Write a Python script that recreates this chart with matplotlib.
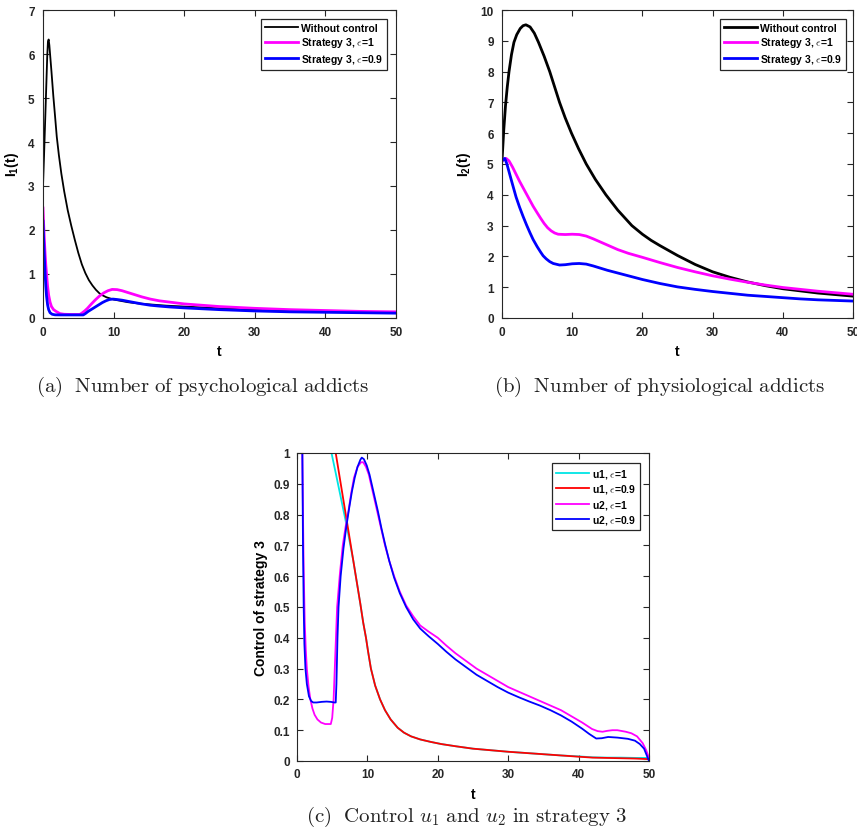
import matplotlib
matplotlib.use("Agg")
import matplotlib.pyplot as plt

plt.rcParams['font.family'] = ['Liberation Sans', 'DejaVu Sans']
plt.rcParams['font.weight'] = 'bold'
plt.rcParams['mathtext.fontset'] = 'custom'
plt.rcParams['mathtext.rm'] = 'Liberation Sans:bold'
plt.rcParams['mathtext.bf'] = 'Liberation Sans:bold'
plt.rcParams['mathtext.it'] = 'Liberation Sans:bold'

# ---------------- data: panel (a) I1(t) ----------------
a_black_t = [0, 0.15, 0.3, 0.45, 0.6, 0.7, 0.8, 0.9, 1.05, 1.2, 1.46, 1.7, 1.95, 2.25, 2.6,
             3.0, 3.5, 4.0, 4.5, 5.0, 5.5, 6.0, 6.5, 7.0, 7.5, 8.0, 8.5, 9.0, 10, 11, 12, 13.5,
             15, 17.5, 20, 25, 30, 35, 40, 45, 50]
a_black_v = [3.0, 3.7, 4.45, 5.2, 5.95, 6.28, 6.33, 6.2, 5.9, 5.6, 5.05, 4.6, 4.12, 3.7, 3.28,
             2.88, 2.45, 2.1, 1.78, 1.48, 1.22, 1.02, 0.86, 0.74, 0.64, 0.56, 0.51, 0.47, 0.42,
             0.39, 0.36, 0.33, 0.31, 0.28, 0.26, 0.22, 0.19, 0.17, 0.15, 0.14, 0.13]
a_mag_t = [0, 0.1, 0.2, 0.3, 0.4, 0.5, 0.65, 0.8, 1.0, 1.2, 1.5, 1.85, 2.4, 3.0, 4.0, 5.2,
           5.5, 5.9, 6.3, 6.8, 7.4, 8.0, 8.6, 9.2, 9.8, 10.5, 11.2, 12, 13, 14, 15.2, 16.5,
           18, 20, 22.5, 25, 30, 35, 40, 45, 50]
a_mag_v = [2.5, 2.1, 1.75, 1.45, 1.2, 1.0, 0.72, 0.52, 0.36, 0.26, 0.19, 0.15, 0.1, 0.085,
           0.08, 0.08, 0.11, 0.16, 0.22, 0.31, 0.41, 0.5, 0.57, 0.62, 0.65, 0.645, 0.62, 0.58,
           0.53, 0.48, 0.43, 0.39, 0.36, 0.32, 0.29, 0.26, 0.22, 0.19, 0.17, 0.15, 0.14]
a_blue_t = [0, 0.1, 0.2, 0.3, 0.4, 0.5, 0.65, 0.8, 1.0, 1.3, 1.7, 2.5, 3.5, 4.5, 5.7, 6.0,
            6.4, 6.9, 7.4, 7.9, 8.4, 8.9, 9.4, 9.9, 10.5, 11.2, 12, 13, 14, 15.2, 16.5, 18,
            20, 22.5, 25, 30, 35, 40, 45, 50]
a_blue_v = [2.2, 1.75, 1.35, 1.0, 0.72, 0.5, 0.3, 0.19, 0.12, 0.085, 0.072, 0.07, 0.07, 0.07,
            0.07, 0.1, 0.15, 0.2, 0.25, 0.3, 0.35, 0.39, 0.42, 0.43, 0.42, 0.405, 0.38, 0.35,
            0.32, 0.29, 0.27, 0.25, 0.23, 0.21, 0.19, 0.16, 0.14, 0.13, 0.12, 0.11]

# ---------------- data: panel (b) I2(t) ----------------
b_black_t = [0, 0.25, 0.5, 0.75, 1.0, 1.35, 1.7, 2.1, 2.6, 3.0, 3.4, 4.0, 4.6, 5.2, 6.0,
             6.8, 7.5, 8.2, 9.0, 9.9, 10.9, 12.0, 13.3, 14.8, 16.5, 18.5, 20, 21.25, 22.5,
             25, 27.5, 30, 32.5, 35, 37.5, 40, 42.5, 45, 47.5, 50]
b_black_v = [5.1, 6.1, 6.9, 7.5, 8.0, 8.55, 8.95, 9.2, 9.4, 9.49, 9.52, 9.45, 9.25, 8.95, 8.5,
             8.0, 7.5, 7.0, 6.5, 6.0, 5.5, 5.0, 4.5, 4.0, 3.5, 3.0, 2.72, 2.52, 2.35, 2.03,
             1.74, 1.5, 1.32, 1.17, 1.05, 0.95, 0.88, 0.81, 0.76, 0.71]
b_mag_t = [0, 0.3, 0.6, 1.0, 1.5, 2.0, 2.5, 3.0, 3.5, 4.0, 4.43, 5.0, 5.5, 6.0, 6.5, 7.0,
           7.5, 8.0, 9, 10, 11, 12, 13, 14, 15, 16.5, 18, 20, 22.5, 25, 27.5, 30, 32.5, 35,
           37.5, 40, 42.5, 45, 47.5, 50]
b_mag_v = [5.1, 5.16, 5.18, 5.1, 4.9, 4.67, 4.44, 4.23, 4.02, 3.81, 3.63, 3.42, 3.24, 3.07,
           2.93, 2.83, 2.76, 2.72, 2.71, 2.72, 2.71, 2.66, 2.57, 2.47, 2.37, 2.22, 2.1, 1.97,
           1.8, 1.64, 1.5, 1.37, 1.26, 1.16, 1.07, 0.99, 0.93, 0.87, 0.82, 0.77]
b_blue_t = [0, 0.2, 0.4, 0.7, 1.0, 1.3, 1.57, 2.0, 2.5, 3.0, 3.5, 4.0, 4.43, 5.0, 5.5, 5.86,
            6.3, 6.8, 7.3, 8.2, 9, 10, 11, 12, 13, 14, 15, 16.5, 18, 20, 22.5, 25, 27.5, 30,
            32.5, 35, 37.5, 40, 42.5, 45, 47.5, 50]
b_blue_v = [5.1, 5.16, 5.18, 5.0, 4.75, 4.5, 4.28, 3.93, 3.6, 3.3, 3.02, 2.76, 2.55, 2.32,
            2.14, 2.02, 1.92, 1.83, 1.77, 1.72, 1.73, 1.76, 1.77, 1.75, 1.69, 1.62, 1.55, 1.46,
            1.37, 1.25, 1.12, 1.01, 0.93, 0.86, 0.8, 0.74, 0.7, 0.66, 0.62, 0.59, 0.57, 0.55]

# ---------------- data: panel (c) controls ----------------
c_u1e1_t = [0, 4.9, 5.5, 6.0, 6.5, 7.0, 7.5, 8.0, 8.5, 9.0, 9.4, 9.8, 10.1, 10.5, 11.1,
            11.8, 12.5, 13.3, 14.3, 15.2, 16.2, 17.5, 19, 20.5, 22.5, 25, 27.5, 30, 32.5, 35,
            37.5, 40, 42, 44, 46, 48, 50]
c_u1e1_v = [1, 1, 0.935, 0.88, 0.825, 0.77, 0.71, 0.65, 0.58, 0.51, 0.45, 0.4, 0.355, 0.3,
            0.245, 0.2, 0.165, 0.135, 0.108, 0.092, 0.08, 0.07, 0.062, 0.055, 0.048, 0.04,
            0.035, 0.03, 0.026, 0.022, 0.018, 0.015, 0.012, 0.011, 0.011, 0.01, 0.01]
c_u1e09_t = [0, 5.5, 6.0, 6.5, 7.0, 7.5, 8.0, 8.5, 9.0, 9.4, 9.8, 10.1, 10.5, 11.1, 11.8,
             12.5, 13.3, 14.3, 15.2, 16.2, 17.5, 19, 20.5, 22.5, 25, 27.5, 30, 32.5, 35,
             37.5, 40, 42, 44, 46, 48, 50]
c_u1e09_v = [1, 1, 0.93, 0.86, 0.79, 0.72, 0.65, 0.58, 0.51, 0.45, 0.4, 0.355, 0.3, 0.245,
             0.2, 0.165, 0.135, 0.108, 0.092, 0.08, 0.07, 0.062, 0.055, 0.048, 0.04, 0.035,
             0.03, 0.026, 0.022, 0.018, 0.014, 0.011, 0.01, 0.009, 0.008, 0.006]
c_u2e1_t = [0, 0.76, 0.85, 0.95, 1.1, 1.25, 1.4, 1.65, 1.9, 2.2, 2.5, 2.9, 3.4, 4.0, 4.8,
            5.0, 5.2, 5.45, 5.7, 6.1, 6.5, 6.9, 7.3, 7.7, 8.1, 8.6, 9.1, 9.4, 9.8, 10.2, 10.6,
            11.0, 11.5, 12.0, 12.5, 13.1, 13.8, 14.6, 15.5, 16.5, 17.5, 18.7, 20, 21.2, 22.5,
            24, 25.5, 27, 28.5, 30, 31.5, 33, 34.5, 36, 37.5, 39, 40.5, 41.9, 42.7, 43.4,
            44.1, 44.8, 45.5, 46.7, 47.5, 48.3, 49.1, 49.6, 50]
c_u2e1_v = [1, 1, 0.8, 0.62, 0.45, 0.36, 0.3, 0.24, 0.2, 0.17, 0.15, 0.135, 0.125, 0.12, 0.12,
            0.14, 0.2, 0.35, 0.5, 0.61, 0.7, 0.76, 0.81, 0.87, 0.92, 0.955, 0.97, 0.97, 0.955,
            0.93, 0.89, 0.85, 0.8, 0.75, 0.7, 0.65, 0.6, 0.55, 0.505, 0.47, 0.44, 0.42, 0.4,
            0.375, 0.35, 0.325, 0.3, 0.28, 0.26, 0.24, 0.225, 0.21, 0.195, 0.18, 0.165, 0.145,
            0.125, 0.104, 0.097, 0.095, 0.098, 0.1, 0.1, 0.095, 0.09, 0.08, 0.058, 0.035, 0.01]
c_u2e09_t = [0, 0.76, 0.85, 0.95, 1.05, 1.2, 1.4, 1.7, 2.0, 2.3, 2.8, 3.5, 4.2, 4.8, 5.3,
             5.5, 5.6, 5.75, 5.9, 6.2, 6.6, 7.0, 7.4, 7.8, 8.2, 8.6, 9.0, 9.2, 9.5, 9.9, 10.3,
             10.7, 11.1, 11.5, 12.0, 12.5, 13.1, 13.8, 14.6, 15.5, 16.5, 17.5, 18.7, 20, 21.2,
             22.5, 24, 25.5, 27, 28.5, 30, 31.5, 33, 34.5, 36, 37.5, 39, 40.5, 41.5, 42.5,
             43.3, 44.2, 45.5, 47, 48, 48.7, 49.3, 50]
c_u2e09_v = [1, 1, 0.7, 0.5, 0.38, 0.3, 0.25, 0.21, 0.195, 0.19, 0.19, 0.192, 0.193, 0.192,
             0.19, 0.19, 0.25, 0.4, 0.5, 0.6, 0.69, 0.76, 0.82, 0.875, 0.92, 0.955, 0.978,
             0.985, 0.98, 0.96, 0.93, 0.89, 0.85, 0.81, 0.755, 0.705, 0.65, 0.595, 0.545, 0.5,
             0.46, 0.43, 0.405, 0.38, 0.355, 0.33, 0.305, 0.28, 0.26, 0.24, 0.222, 0.207,
             0.193, 0.18, 0.165, 0.148, 0.128, 0.105, 0.088, 0.073, 0.074, 0.078, 0.076, 0.072,
             0.066, 0.055, 0.04, 0.0]

legend_a = ['Without control', 'Strategy 3, $\\epsilon$=1', 'Strategy 3, $\\epsilon$=0.9']
legend_c = ['u1, $\\epsilon$=1', 'u1, $\\epsilon$=0.9', 'u2, $\\epsilon$=1', 'u2, $\\epsilon$=0.9']

W, H = 857, 828
fig = plt.figure(figsize=(W / 100, H / 100), dpi=100)
fig.patch.set_facecolor('white')

GRAY = (0.15, 0.15, 0.15)


def make_ax(x0, x1, ytop, ybot, pad=5):
    ax = fig.add_axes([x0 / W, 1 - ybot / H, (x1 - x0) / W, (ybot - ytop) / H])
    for s in ax.spines.values():
        s.set_color(GRAY)
        s.set_linewidth(0.8)
    ax.tick_params(direction='in', top=True, right=True, length=4, width=0.8,
                   colors=GRAY, labelsize=8.5, pad=pad)
    return ax


def bold_ticks(ax):
    for lab in ax.get_xticklabels() + ax.get_yticklabels():
        lab.set_fontweight('bold')


def style_legend(leg):
    fr = leg.get_frame()
    fr.set_edgecolor(GRAY)
    fr.set_linewidth(0.9)
    fr.set_boxstyle('square', pad=0)
    for t in leg.get_texts():
        t.set_fontweight('bold')
        t.set_math_fontfamily('cm')


leg_kw = dict(loc='upper right', fontsize=7.5, borderaxespad=0, handlelength=3.2,
              handletextpad=0.3, labelspacing=0.25, borderpad=0.35, fancybox=False,
              framealpha=1)

# ---- panel (a)
ax = make_ax(43, 396, 11, 319, pad=6)
ax.plot(a_black_t, a_black_v, color='black', lw=1.3, label=legend_a[0])
ax.plot(a_mag_t, a_mag_v, color='#ff00ff', lw=2.0, label=legend_a[1])
ax.plot(a_blue_t, a_blue_v, color='#0000ff', lw=2.0, label=legend_a[2])
ax.set_xlim(0, 50)
ax.set_ylim(0, 7)
ax.set_xticks(range(0, 51, 10))
ax.set_yticks(range(0, 8))
bold_ticks(ax)
ax.set_xlabel('t', fontsize=10, fontweight='bold', labelpad=4)
ax.set_ylabel('$\\mathbf{I_1(t)}$', fontsize=10, labelpad=5)
leg = ax.legend(bbox_to_anchor=(1 - 9 / 353, 1 - 9 / 308), **leg_kw)
style_legend(leg)

# ---- panel (b)
ax = make_ax(502, 853, 11, 319, pad=6)
ax.plot(b_black_t, b_black_v, color='black', lw=2.0, label=legend_a[0])
ax.plot(b_mag_t, b_mag_v, color='#ff00ff', lw=2.0, label=legend_a[1])
ax.plot(b_blue_t, b_blue_v, color='#0000ff', lw=2.0, label=legend_a[2])
ax.set_xlim(0, 50)
ax.set_ylim(0, 10)
ax.set_xticks(range(0, 51, 10))
ax.set_yticks(range(0, 11))
bold_ticks(ax)
ax.set_xlabel('t', fontsize=10, fontweight='bold', labelpad=4)
ax.set_ylabel('$\\mathbf{I_2(t)}$', fontsize=10, labelpad=5)
leg = ax.legend(bbox_to_anchor=(1 - 7 / 351, 1 - 9 / 308), **leg_kw)
style_legend(leg)

# ---- panel (c)
ax = make_ax(297, 649, 454, 762, pad=5)
ax.plot(c_u1e1_t, c_u1e1_v, color='#00e5e5', lw=1.3, label=legend_c[0])
ax.plot(c_u1e09_t, c_u1e09_v, color='#ff0000', lw=1.3, label=legend_c[1])
ax.plot(c_u2e1_t, c_u2e1_v, color='#ff00ff', lw=1.3, label=legend_c[2])
ax.plot(c_u2e09_t, c_u2e09_v, color='#0000ff', lw=1.3, label=legend_c[3])
ax.set_xlim(0, 50)
ax.set_ylim(0, 1)
ax.set_xticks(range(0, 51, 10))
yt = [i / 10 for i in range(11)]
ax.set_yticks(yt)
ax.set_yticklabels(['0'] + ['%.1f' % v for v in yt[1:-1]] + ['1'])
bold_ticks(ax)
ax.set_xlabel('t', fontsize=10, fontweight='bold', labelpad=5)
ax.set_ylabel('Control of strategy 3', fontsize=10, fontweight='bold', labelpad=4)
leg = ax.legend(bbox_to_anchor=(1 - 9 / 352, 1 - 10 / 308), **leg_kw)
style_legend(leg)

# ---- captions
cap_kw = dict(ha='center', va='center', fontsize=15, math_fontfamily='cm', color='#222222')
fig.text(203 / W, 1 - 387 / H, r'$\mathrm{(a)\ \ Number\ of\ psychological\ addicts}$', **cap_kw)
fig.text(660 / W, 1 - 387 / H, r'$\mathrm{(b)\ \ Number\ of\ physiological\ addicts}$', **cap_kw)
fig.text(466 / W, 1 - 817 / H,
         r'$\mathrm{(c)\ \ Control}\ u_1\ \mathrm{and}\ u_2\ \mathrm{in\ strategy\ 3}$', **cap_kw)

fig.savefig('out.png', dpi=100, facecolor='white')
